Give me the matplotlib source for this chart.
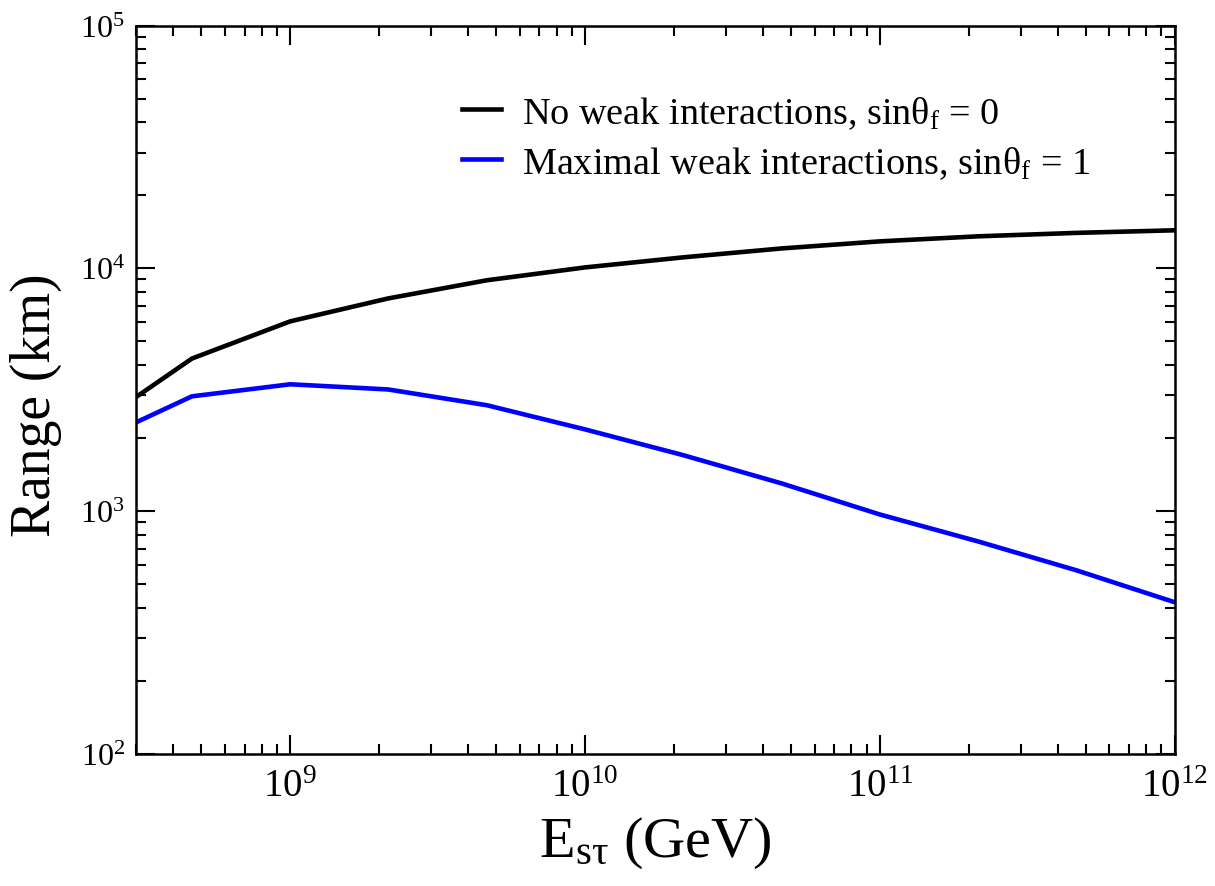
import matplotlib
matplotlib.use("Agg")
import matplotlib.pyplot as plt
from matplotlib.ticker import LogLocator, NullFormatter, LogFormatterMathtext

plt.rcParams['font.family'] = ['Liberation Serif', 'DejaVu Serif']
plt.rcParams['mathtext.fontset'] = 'custom'
plt.rcParams['mathtext.rm'] = 'Liberation Serif'
plt.rcParams['mathtext.it'] = 'Liberation Serif:italic'

# tau energy (GeV) and range (km)
energy = [3.0e8, 4.64e8, 1.0e9, 2.15e9, 4.64e9, 1.0e10, 2.15e10, 4.64e10,
          1.0e11, 2.15e11, 4.64e11, 1.0e12]
range_no_weak = [2950, 4250, 6050, 7520, 8930, 10090, 11100, 12080,
                 12920, 13550, 14000, 14350]
range_max_weak = [2320, 2970, 3330, 3170, 2730, 2170, 1700, 1300,
                  968, 750, 570, 421]

fig = plt.figure(figsize=(12.15, 8.87), dpi=100)
ax = fig.add_axes([0.112, 0.149, 0.855, 0.821])

ax.plot(energy, range_no_weak, color='black', lw=3.3,
        label='No weak interactions, sinθ$_{\\mathrm{f}}$ = 0')
ax.plot(energy, range_max_weak, color='blue', lw=3.3,
        label='Maximal weak interactions, sinθ$_{\\mathrm{f}}$ = 1')

ax.set_xscale('log')
ax.set_yscale('log')
ax.set_xlim(3e8, 1e12)
ax.set_ylim(1e2, 1e5)

for a in (ax.xaxis, ax.yaxis):
    a.set_major_locator(LogLocator(base=10, numticks=20))
    a.set_minor_locator(LogLocator(base=10, subs=range(2, 10), numticks=20))
    a.set_minor_formatter(NullFormatter())
    a.set_major_formatter(LogFormatterMathtext())

ax.tick_params(which='both', direction='in', top=True, right=True, width=1.5)
ax.tick_params(which='major', length=14)
ax.tick_params(which='minor', length=7)
ax.tick_params(axis='x', which='major', labelsize=28, pad=10)
ax.tick_params(axis='y', which='major', labelsize=23, pad=8)
for s in ax.spines.values():
    s.set_linewidth(1.8)

ax.set_xlabel('E$_{\\mathrm{s\\tau}}$ (GeV)', fontsize=42, labelpad=7)
ax.set_ylabel('Range (km)', fontsize=40)
ax.yaxis.set_label_coords(-0.071, 0.48)

ax.legend(loc='upper left', bbox_to_anchor=(0.281, 0.953), frameon=False,
          fontsize=27.5, handlelength=1.0, handletextpad=0.55, labelspacing=0.35)

fig.savefig('out.png', dpi=100)
